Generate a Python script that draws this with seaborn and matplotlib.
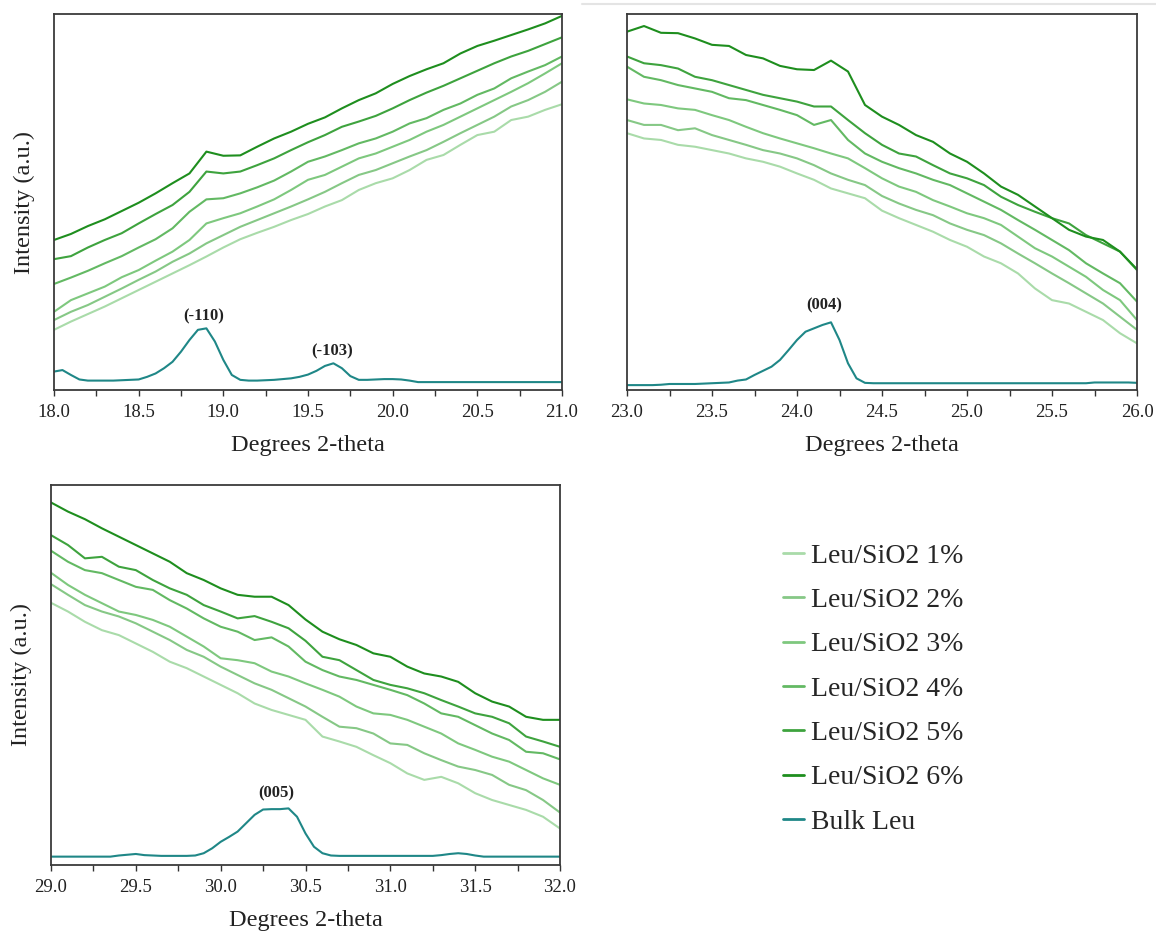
import numpy as np
import pandas as pd
import matplotlib
matplotlib.use("Agg")
import matplotlib.pyplot as plt
import seaborn as sns
from matplotlib.lines import Line2D
from matplotlib.ticker import MultipleLocator, FormatStrFormatter

# ---------------- data ----------------
SERIES = ["Leu/SiO2 1%", "Leu/SiO2 2%", "Leu/SiO2 3%", "Leu/SiO2 4%",
          "Leu/SiO2 5%", "Leu/SiO2 6%", "Bulk Leu"]
COLORS = ["#a9dba9", "#86c886", "#7ec87e", "#63b963", "#3ea33e", "#1e8e1e", "#1f8787"]

# Panel A: 18-21 deg
theta_a = np.round(np.arange(18.0, 21.0001, 0.1), 2)
theta_a_bulk = np.round(np.arange(18.0, 21.0001, 0.05), 2)
a1 = [16.0, 18.2, 20.2, 22.2, 24.4, 26.6, 28.8, 31.0, 33.2, 35.5, 37.9, 40.1, 41.8, 43.4, 45.2, 46.8,
      48.8, 50.5, 53.2, 55.0, 56.3, 58.5, 61.2, 62.5, 65.2, 67.8, 68.7, 71.8, 72.7, 74.5, 76.0]
a2 = [18.6, 20.8, 22.6, 24.8, 27.0, 29.3, 31.5, 34.1, 36.3, 39.0, 41.2, 43.4, 45.2, 47.0, 48.8, 50.7,
      52.7, 55.0, 57.2, 58.5, 60.3, 62.1, 63.8, 66.0, 68.3, 70.5, 72.7, 75.4, 77.1, 79.3, 82.0]
a3 = [20.8, 23.9, 25.7, 27.5, 30.0, 31.9, 34.4, 36.8, 39.9, 44.3, 45.7, 47.0, 48.8, 50.7, 53.2, 55.9,
      57.2, 59.4, 61.6, 62.9, 64.7, 66.5, 68.7, 70.5, 72.7, 74.9, 77.1, 79.3, 81.6, 84.2, 86.9]
a4 = [28.2, 29.9, 31.7, 33.7, 35.6, 37.9, 40.1, 43.0, 47.4, 50.7, 51.0, 52.3, 53.9, 55.7, 58.1, 60.7,
      62.1, 63.8, 65.6, 66.9, 68.7, 70.9, 72.3, 74.5, 76.2, 78.5, 80.2, 82.9, 84.7, 86.4, 88.7]
a5 = [34.8, 35.6, 37.9, 39.9, 41.7, 44.3, 46.8, 49.2, 52.7, 58.1, 57.6, 58.1, 59.8, 61.6, 63.8, 65.9,
      67.8, 70.0, 71.4, 72.9, 74.9, 77.1, 79.1, 80.9, 82.9, 84.9, 86.9, 88.7, 90.2, 92.0, 93.8]
a6 = [39.9, 41.5, 43.6, 45.4, 47.6, 49.8, 52.3, 55.0, 57.6, 63.4, 62.3, 62.4, 64.7, 66.9, 68.7, 70.8,
      72.5, 74.9, 77.1, 78.9, 81.4, 83.5, 85.3, 86.9, 89.5, 91.5, 92.9, 94.4, 95.9, 97.5, 99.5]
a_bulk = [4.9, 5.3, 4.0, 2.8, 2.5, 2.5, 2.5, 2.5, 2.6, 2.7, 2.8, 3.5, 4.4, 5.8, 7.5, 10.2, 13.3, 16.0,
          16.4, 12.9, 8.0, 4.0, 2.7, 2.5, 2.5, 2.6, 2.7, 2.9, 3.1, 3.5, 4.1, 5.1, 6.4, 7.1, 5.8, 3.7,
          2.7, 2.7, 2.8, 2.9, 2.9, 2.8, 2.5, 2.1, 2.1, 2.1, 2.1, 2.1, 2.1, 2.1, 2.1, 2.1, 2.1, 2.1,
          2.1, 2.1, 2.1, 2.1, 2.1, 2.1, 2.1]

# Panel B: 23-26 deg
theta_b = np.round(np.arange(23.0, 26.0001, 0.1), 2)
theta_b_bulk = np.round(np.arange(23.0, 26.0001, 0.05), 2)
b1 = [68.3, 66.9, 66.5, 65.2, 64.7, 63.8, 62.9, 61.6, 60.7, 59.4, 57.6, 55.9, 53.6, 52.3, 51.0, 47.7,
      45.7, 43.9, 42.1, 39.9, 38.1, 35.5, 33.7, 31.0, 27.0, 23.9, 23.0, 20.8, 18.6, 15.1, 12.4]
b2 = [71.8, 70.5, 70.5, 69.1, 69.6, 67.8, 66.5, 65.2, 63.8, 62.9, 61.6, 59.8, 57.6, 55.9, 54.5, 51.6,
      49.6, 47.9, 46.5, 44.3, 42.6, 41.2, 39.0, 36.3, 33.7, 31.0, 28.4, 25.7, 23.0, 19.5, 16.0]
b3 = [77.3, 76.2, 75.8, 74.9, 74.5, 73.1, 71.8, 70.0, 68.3, 66.9, 65.6, 64.3, 62.9, 61.6, 59.0, 56.3,
      54.1, 52.7, 50.5, 48.8, 47.0, 45.7, 43.9, 40.8, 37.7, 35.5, 32.8, 30.1, 26.6, 23.9, 18.6]
b4 = [86.0, 83.3, 82.4, 81.1, 80.2, 79.3, 77.6, 77.1, 75.8, 74.5, 73.1, 70.5, 71.8, 66.5, 62.9, 60.7,
      59.0, 57.6, 55.9, 54.5, 52.3, 50.1, 47.9, 45.2, 42.6, 39.9, 37.2, 33.7, 31.0, 28.4, 23.5]
b5 = [88.7, 86.9, 86.4, 85.5, 83.3, 82.4, 81.1, 79.8, 78.5, 77.6, 76.7, 75.4, 75.4, 71.8, 68.3, 65.2,
      62.9, 62.1, 59.8, 57.6, 56.3, 54.5, 51.4, 49.2, 47.4, 45.7, 44.3, 41.2, 39.0, 36.8, 31.9]
b6 = [95.3, 96.8, 95.0, 94.9, 93.5, 91.8, 91.5, 89.1, 88.2, 86.2, 85.3, 85.1, 87.6, 84.7, 75.8, 72.7,
      70.5, 67.8, 66.0, 62.9, 60.7, 57.6, 54.1, 51.9, 48.8, 45.7, 42.6, 40.8, 39.9, 36.8, 32.1]
b_bulk = [1.3, 1.3, 1.3, 1.3, 1.4, 1.6, 1.6, 1.6, 1.6, 1.7, 1.8, 1.9, 2.0, 2.5, 2.8, 4.0, 5.1, 6.2,
          8.0, 10.6, 13.3, 15.5, 16.4, 17.3, 18.0, 13.3, 7.1, 3.1, 1.9, 1.8, 1.8, 1.8, 1.8, 1.8, 1.8,
          1.8, 1.8, 1.8, 1.8, 1.8, 1.8, 1.8, 1.8, 1.8, 1.8, 1.8, 1.8, 1.8, 1.8, 1.8, 1.8, 1.8, 1.8,
          1.8, 1.8, 2.0, 2.0, 2.0, 2.0, 2.0, 1.9]

# Panel C: 29-32 deg
theta_c = np.round(np.arange(29.0, 32.0001, 0.1), 2)
theta_c_bulk = np.round(np.arange(29.0, 32.0001, 0.05), 2)
c1 = [69.0, 66.7, 64.0, 61.8, 60.5, 58.3, 56.1, 53.5, 51.8, 49.6, 47.4, 45.2, 42.5, 40.8, 39.5, 38.2,
      33.8, 32.5, 31.1, 28.9, 26.8, 24.1, 22.4, 23.2, 21.5, 18.9, 17.1, 15.8, 14.5, 12.7, 9.6]
c2 = [73.9, 71.1, 68.4, 66.7, 65.4, 63.6, 61.4, 59.2, 56.6, 54.8, 52.2, 50.0, 47.8, 46.1, 43.9, 41.7,
      39.0, 36.4, 36.0, 34.6, 32.0, 31.6, 29.4, 27.6, 25.9, 25.0, 23.7, 21.1, 19.7, 17.1, 13.8]
c3 = [76.9, 73.7, 71.1, 68.9, 66.7, 65.8, 64.5, 62.7, 60.1, 57.5, 54.4, 53.9, 53.1, 50.9, 49.6, 47.8,
      46.1, 44.3, 41.7, 39.9, 39.5, 38.2, 36.4, 34.6, 32.0, 30.3, 28.5, 27.2, 25.0, 22.8, 21.1]
c4 = [82.7, 79.8, 77.6, 76.8, 75.0, 73.2, 72.4, 69.7, 67.5, 64.9, 62.7, 61.4, 59.2, 59.9, 57.5, 53.5,
      51.3, 49.6, 48.7, 47.4, 46.1, 44.7, 42.5, 39.9, 39.0, 36.8, 34.6, 32.9, 29.8, 29.4, 27.8]
c5 = [86.8, 84.2, 80.7, 81.1, 78.5, 77.6, 75.0, 72.8, 71.1, 68.4, 66.7, 64.9, 65.5, 64.0, 62.3, 59.0,
      54.8, 53.9, 51.3, 48.7, 47.4, 46.5, 45.2, 43.4, 41.7, 39.9, 39.0, 37.3, 33.8, 32.5, 31.1]
c6 = [95.4, 93.0, 91.0, 88.6, 86.4, 84.2, 82.0, 79.8, 76.8, 75.0, 72.8, 71.1, 70.6, 70.6, 68.4, 64.6,
      61.4, 59.4, 57.9, 55.7, 54.8, 52.2, 50.4, 49.6, 48.2, 45.2, 43.0, 41.7, 39.0, 38.2, 38.2]
c_bulk = [2.2, 2.2, 2.2, 2.2, 2.2, 2.2, 2.2, 2.2, 2.5, 2.7, 2.9, 2.6, 2.5, 2.4, 2.4, 2.4, 2.4, 2.5,
          3.1, 4.4, 6.1, 7.4, 8.8, 11.0, 13.2, 14.6, 14.7, 14.7, 14.9, 12.7, 8.3, 4.8, 3.1, 2.5,
          2.4, 2.4, 2.4, 2.4, 2.4, 2.4, 2.4, 2.4, 2.4, 2.4, 2.4, 2.4, 2.6, 2.9, 3.1, 2.9, 2.5,
          2.2, 2.2, 2.2, 2.2, 2.2, 2.2, 2.2, 2.2, 2.2, 2.2]

PEAKS_A = [("(-110)", 18.886, 19.6), ("(-103)", 19.64, 10.3)]
PEAKS_B = [("(004)", 24.16, 22.6)]
PEAKS_C = [("(005)", 30.33, 18.9)]


def build(theta, theta_bulk, greens, bulk):
    frames = []
    for name, vals in zip(SERIES[:6], greens):
        frames.append(pd.DataFrame({"theta": theta, "intensity": vals, "series": name}))
    frames.append(pd.DataFrame({"theta": theta_bulk, "intensity": bulk, "series": SERIES[6]}))
    return pd.concat(frames, ignore_index=True)


df_a = build(theta_a, theta_a_bulk, [a1, a2, a3, a4, a5, a6], a_bulk)
df_b = build(theta_b, theta_b_bulk, [b1, b2, b3, b4, b5, b6], b_bulk)
df_c = build(theta_c, theta_c_bulk, [c1, c2, c3, c4, c5, c6], c_bulk)

# ---------------- style ----------------
sns.set_theme(style="white")
plt.rcParams["font.family"] = ["Liberation Serif", "DejaVu Serif"]
palette = dict(zip(SERIES, COLORS))

W, H = 1156, 932
fig = plt.figure(figsize=(W / 100, H / 100), dpi=100)
fig.patch.set_facecolor("white")


def px_rect(left, top, right, bottom):
    return [left / W, 1 - bottom / H, (right - left) / W, (bottom - top) / H]


panels = [
    (df_a, (18.0, 21.0), px_rect(54, 14, 562, 390), True, PEAKS_A),
    (df_b, (23.0, 26.0), px_rect(627, 14, 1137, 390), False, PEAKS_B),
    (df_c, (29.0, 32.0), px_rect(51, 485, 560, 865), True, PEAKS_C),
]

for df, xlim, rect, ylab, peaks in panels:
    ax = fig.add_axes(rect)
    sns.lineplot(data=df, x="theta", y="intensity", hue="series", hue_order=SERIES,
                 palette=palette, estimator=None, sort=False, legend=False,
                 linewidth=1.5, ax=ax)
    ax.set_xlim(*xlim)
    ax.set_ylim(0, 100)
    ax.set_yticks([])
    ax.xaxis.set_major_locator(MultipleLocator(0.5))
    ax.xaxis.set_minor_locator(MultipleLocator(0.25))
    ax.xaxis.set_major_formatter(FormatStrFormatter("%.1f"))
    ax.tick_params(axis="x", which="both", direction="out", length=4, width=1.0,
                   color="#333333", bottom=True, pad=6, labelsize=13.5, labelcolor="#222222")
    for sp in ax.spines.values():
        sp.set_color("#3a3a3a")
        sp.set_linewidth(1.3)
    ax.set_xlabel("Degrees 2-theta", fontsize=17.5, color="#222222", labelpad=10)
    if ylab:
        ax.set_ylabel("Intensity (a.u.)", fontsize=17.5, color="#222222", labelpad=14)
    else:
        ax.set_ylabel("")
    for txt, x, y in peaks:
        ax.text(x, y, txt, ha="center", va="center", fontsize=12, fontweight="bold",
                color="#222222")

# legend
handles = [Line2D([], [], color=c, lw=2) for c in COLORS]
fig.legend(handles, SERIES, loc="upper left", bbox_to_anchor=(772 / W, 1 - 532 / H),
           frameon=False, fontsize=20, handlelength=0.75, handletextpad=0.25,
           labelspacing=0.68, borderaxespad=0)

# faint screenshot edge line above right panel
fig.add_artist(Line2D([582 / W, 1.0], [1 - 4 / H, 1 - 4 / H], color="#e4e4e4", lw=1.5,
                      transform=fig.transFigure))

fig.savefig("out.png", dpi=100, facecolor="white")
